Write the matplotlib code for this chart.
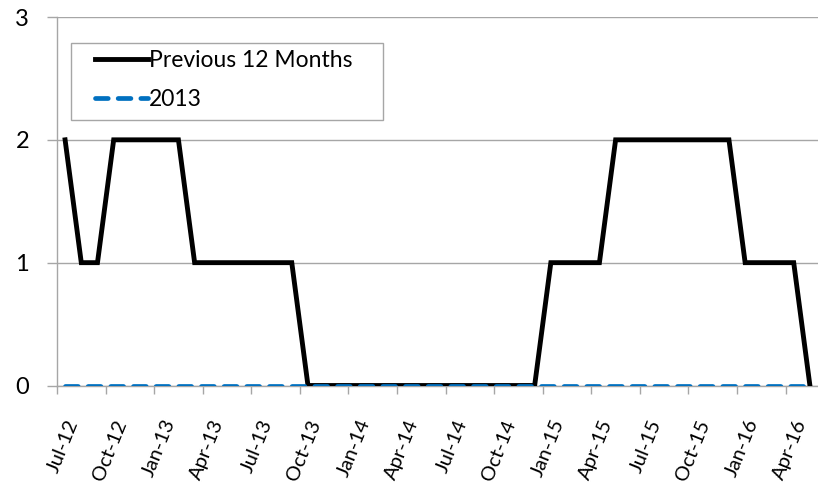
import numpy as np
import pandas as pd
import matplotlib
matplotlib.use('Agg')
import matplotlib.pyplot as plt
import matplotlib.transforms as mtransforms
from matplotlib.patches import Rectangle

plt.rcParams['font.family'] = ['Lato', 'DejaVu Sans']

# months Jul-12 .. May-16
months = pd.date_range('2012-07-01', periods=47, freq='MS').strftime('%b-%y').tolist()

prev_12 = [2, 1, 1, 2, 2, 2, 2, 2, 1, 1, 1, 1, 1, 1, 1, 0,
           0, 0, 0, 0, 0, 0, 0, 0, 0, 0, 0, 0, 0, 0, 1, 1,
           1, 1, 2, 2, 2, 2, 2, 2, 2, 2, 1, 1, 1, 1, 0]
y2013 = [0] * len(months)

x = np.arange(len(months))
grey = '#A6A6A6'
W, H = 818, 484

fig = plt.figure(figsize=(W / 100, H / 100), dpi=100)
ax = fig.add_axes([57 / W, 1 - 385.5 / H, 1 - 57 / W, 368.5 / H])

ax.plot(x, prev_12, color='black', lw=3.5, solid_joinstyle='miter', label='Previous 12 Months', zorder=3)
ax.plot(x, y2013, color='#0070C0', lw=3.4, dashes=(2.7, 2.1), dash_capstyle='round', label='2013', zorder=4)

ax.set_xlim(-0.5, len(months) - 0.5)
ax.set_ylim(0, 3)
ax.set_yticks([0, 1, 2, 3])
ax.set_yticklabels(['0', '1', '2', '3'], fontsize=17)
ax.yaxis.grid(True, color=grey, lw=1)
ax.set_axisbelow(True)

# labels at category centres, tick marks at category edges
ax.set_xticks(x[::3])
ax.set_xticklabels(months[::3], rotation=68, ha='right', va='center',
                   rotation_mode='anchor', fontsize=14.5)
ax.set_xticks(x[::3] - 0.5, minor=True)
ax.tick_params(axis='x', which='major', length=0, pad=19)
ax.tick_params(axis='x', which='minor', length=6, color=grey, width=1)
ax.tick_params(axis='y', length=7, color=grey, width=1, pad=13)
shift = mtransforms.ScaledTranslation(6 / 72, -6 / 72, fig.dpi_scale_trans)
for lab in ax.get_xticklabels():
    lab.set_transform(lab.get_transform() + shift)

for s in ['top', 'right']:
    ax.spines[s].set_visible(False)
for s in ['left', 'bottom']:
    ax.spines[s].set_color(grey)
    ax.spines[s].set_linewidth(1)

# legend without its own frame, box drawn separately (Excel-style padding)
leg = fig.legend(loc='upper left', bbox_to_anchor=(95 / W, 1 - 50 / H), fontsize=16.5,
                 frameon=False, handlelength=2.3, handletextpad=0.05, borderpad=0,
                 labelspacing=0.78, borderaxespad=0)
fig.patches.append(Rectangle((71 / W, 1 - 120 / H), 312 / W, 77 / H, transform=fig.transFigure,
                             fill=True, facecolor='white', edgecolor=grey, lw=1, zorder=0))

fig.savefig('out.png', dpi=100)
